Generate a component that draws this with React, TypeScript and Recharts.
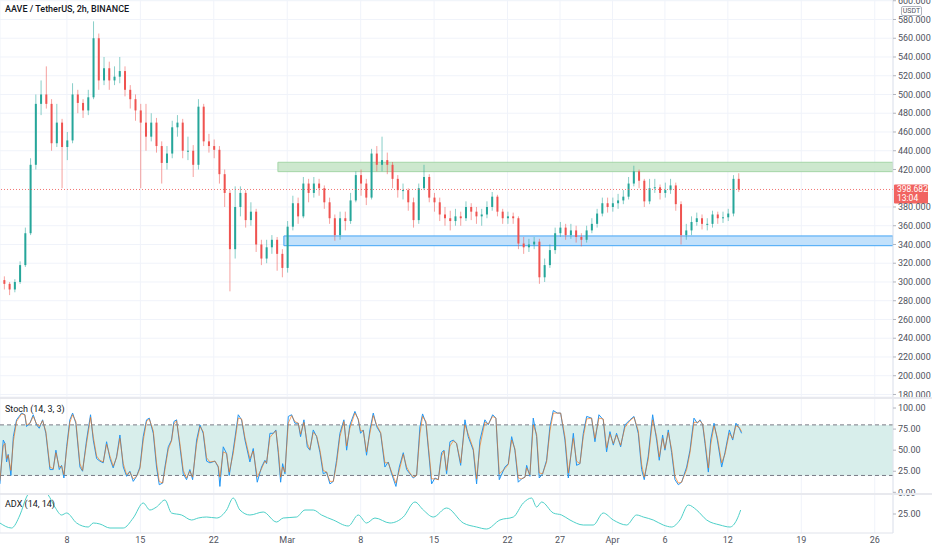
import React from "react";
import {
  ComposedChart, Bar, Line, XAxis, YAxis, CartesianGrid, ReferenceArea, ReferenceLine,
} from "recharts";

// time axis: days since Feb 1 (fractional), 2h chart sampled per 12h candle
const X_DOMAIN: [number, number] = [0.62, 85.74];
const tickDays = [7, 14, 21, 28, 35, 42, 49, 54, 59, 64, 70, 77, 84];
const tickLabels = ["8", "15", "22", "Mar", "8", "15", "22", "27", "Apr", "6", "12", "19", "26"];

// 400 sits under the last-price tag, so the axis does not print it
const priceTicks = [180, 200, 220, 240, 260, 280, 300, 320, 340, 360, 380, 420, 440, 460, 480, 500, 520, 540, 560, 580, 600];
const stochTicks = [0, 25, 50, 75, 100];
const adxTicks = [25];

const FIRST_OPEN = 302;
const LAST_PRICE = 398.682;

const closes = [
  298, 292, 300, 318, 352, 425, 490, 500, 490, 448, 470, 444, 451, 500, 491, 483, 497, 560, 515, 528,
  515, 519, 525, 505, 495, 483, 470, 455, 470, 445, 427, 437, 465, 470, 440, 440, 425, 487, 450, 445,
  441, 415, 395, 335, 380, 395, 366, 375, 340, 325, 337, 345, 330, 315, 359, 384, 370, 405, 395, 405,
  400, 385, 368, 350, 368, 365, 387, 414, 405, 390, 437, 425, 430, 425, 410, 398, 398, 385, 366, 400,
  412, 390, 385, 372, 368, 365, 370, 368, 380, 375, 370, 372, 380, 391, 375, 368, 370, 368, 341, 337,
  340, 343, 305, 318, 334, 352, 358, 350, 355, 348, 345, 355, 362, 373, 384, 380, 384, 387, 391, 405,
  418, 408, 386, 400, 401, 395, 398, 403, 383, 350, 355, 364, 368, 362, 362, 372, 368, 369, 373, 410,
  398.682,
];
const highs = [
  306, 300, 303, 322, 358, 432, 500, 515, 530, 495, 490, 474, 460, 512, 505, 495, 505, 578, 565, 540,
  535, 530, 540, 530, 510, 500, 490, 490, 480, 475, 450, 445, 472, 478, 474, 455, 446, 495, 490, 458,
  452, 445, 420, 398, 402, 402, 398, 385, 378, 345, 345, 350, 348, 335, 365, 392, 390, 412, 410, 412,
  410, 403, 390, 372, 375, 375, 395, 418, 420, 410, 442, 445, 455, 438, 428, 414, 405, 400, 390, 405,
  425, 415, 395, 390, 380, 376, 378, 375, 386, 384, 380, 378, 386, 396, 393, 378, 375, 374, 370, 348,
  346, 348, 346, 325, 340, 358, 364, 362, 362, 360, 352, 360, 368, 378, 390, 390, 390, 394, 398, 412,
  424, 420, 410, 410, 410, 404, 406, 410, 406, 386, 362, 370, 374, 372, 368, 376, 375, 375, 378, 414,
  416,
];
const lows = [
  292, 286, 289, 298, 316, 350, 420, 478, 485, 440, 444, 400, 430, 448, 480, 475, 478, 495, 505, 510,
  505, 510, 512, 498, 485, 472, 400, 440, 450, 438, 405, 420, 432, 455, 432, 430, 412, 420, 445, 438,
  432, 405, 380, 290, 325, 370, 358, 360, 332, 318, 320, 330, 312, 305, 310, 355, 362, 368, 385, 390,
  392, 378, 362, 344, 345, 355, 362, 385, 392, 382, 388, 418, 418, 415, 400, 390, 388, 376, 358, 362,
  398, 385, 375, 365, 360, 355, 360, 360, 365, 366, 362, 360, 368, 376, 370, 362, 362, 362, 335, 330,
  332, 335, 298, 300, 315, 330, 348, 345, 346, 342, 338, 342, 352, 358, 370, 374, 375, 378, 383, 388,
  402, 400, 380, 383, 395, 388, 390, 394, 376, 340, 345, 350, 360, 356, 355, 358, 362, 363, 365, 370,
  396,
];

const stochDays = [
  0.61, 0.93, 1.09, 1.25, 1.40, 1.66, 1.89, 2.20, 2.68, 2.99, 3.15, 3.47, 3.79, 4.11, 4.36, 4.68, 4.99, 5.38, 5.69, 5.95,
  6.27, 6.49, 6.71, 6.97, 7.28, 7.54, 7.85, 8.24, 8.49, 8.87, 9.25, 9.51, 9.83, 10.14, 10.46, 10.78, 11.10, 11.41, 11.73, 12.05,
  12.37, 12.69, 13.00, 13.32, 13.64, 13.96, 14.27, 14.59, 14.85, 15.23, 15.54, 15.80, 16.12, 16.34, 16.66, 16.97, 17.20, 17.45, 17.77, 18.09,
  18.40, 18.72, 18.98, 19.36, 19.68, 19.99, 20.31, 20.63, 21.11, 21.42, 21.58, 21.90, 22.22, 22.47, 22.85, 23.33, 23.65, 23.97, 24.44, 24.76,
  25.14, 25.55, 25.87, 26.03, 26.35, 26.67, 26.92, 27.14, 27.37, 27.56, 27.78, 28.10, 28.42, 28.73, 29.05, 29.27, 29.59, 29.91, 30.16, 30.48,
  30.80, 31.12, 31.43, 31.75, 32.07, 32.39, 32.70, 33.02, 33.40, 33.66, 33.97, 34.45, 34.77, 34.99, 35.25, 35.56, 35.88, 36.20, 36.52, 36.90,
  37.31, 37.63, 37.95, 38.36, 38.68, 39.06, 39.38, 39.69, 40.01, 40.33, 40.65, 40.90, 41.22, 41.76, 42.08, 42.40, 42.71, 42.94, 43.19, 43.51,
  43.83, 44.14, 44.53, 44.94, 45.25, 45.73, 46.05, 46.37, 46.84, 47.16, 47.58, 47.89, 48.21, 48.75, 49.07, 49.39, 49.70, 50.02, 50.34, 50.66,
  50.82, 51.13, 51.45, 51.77, 52.02, 52.34, 52.72, 53.04, 53.36, 53.74, 54.06, 54.47, 54.79, 55.27, 55.58, 55.90, 56.22, 56.54, 57.01, 57.33,
  57.71, 58.12, 58.44, 58.76, 59.08, 59.39, 59.78, 60.19, 60.67, 61.05, 61.46, 61.78, 62.03, 62.41, 62.83, 63.21, 63.46, 63.78, 64.00, 64.32,
  64.64, 64.96, 65.28, 65.59, 66.07, 66.39, 66.77, 67.09, 67.34, 67.60, 67.82, 68.14, 68.36, 68.68, 69.00, 69.41, 69.72, 70.14, 70.46, 70.77,
  71.09, 71.31,
];
const stochK = [
  10, 62, 58, 36, 45, 20, 66, 86, 94, 92, 78, 82, 92, 80, 76, 86, 70, 27, 27, 50,
  27, 32, 17, 54, 86, 94, 82, 30, 25, 62, 92, 62, 40, 37, 35, 60, 40, 29, 42, 68,
  30, 19, 25, 13, 19, 30, 66, 86, 88, 70, 30, 9, 11, 30, 54, 62, 84, 86, 54, 22,
  15, 27, 15, 62, 80, 70, 37, 35, 37, 30, 7, 54, 46, 20, 50, 92, 86, 62, 36, 52,
  12, 30, 38, 34, 70, 70, 74, 47, 12, 34, 22, 90, 92, 82, 82, 66, 86, 54, 50, 74,
  66, 47, 22, 24, 10, 13, 38, 70, 86, 50, 80, 96, 86, 70, 74, 44, 74, 94, 78, 70,
  30, 36, 22, 7, 30, 47, 27, 22, 17, 20, 78, 93, 82, 10, 17, 15, 47, 50, 22, 60,
  62, 58, 32, 86, 66, 50, 10, 62, 86, 80, 92, 88, 15, 30, 34, 66, 50, 12, 16, 18,
  32, 19, 88, 66, 17, 22, 38, 78, 97, 94, 94, 62, 17, 70, 32, 34, 70, 90, 88, 60,
  92, 86, 48, 72, 56, 70, 54, 80, 86, 90, 70, 27, 15, 43, 92, 62, 38, 68, 50, 74,
  47, 15, 9, 12, 30, 50, 88, 82, 86, 80, 58, 24, 62, 82, 62, 30, 47, 74, 62, 82,
  76, 70,
];
const stochD = [
  14, 55, 58, 40, 44, 26, 60, 84, 93, 92, 80, 82, 90, 81, 78, 85, 72, 30, 28, 47,
  30, 31, 21, 50, 83, 92, 84, 34, 26, 58, 89, 66, 43, 38, 36, 57, 43, 31, 41, 64,
  34, 21, 24, 16, 19, 28, 61, 84, 87, 73, 35, 13, 11, 27, 51, 61, 81, 85, 58, 26,
  17, 25, 18, 57, 78, 72, 41, 36, 37, 31, 18, 48, 46, 24, 46, 88, 87, 65, 40, 49,
  18, 28, 37, 35, 65, 70, 73, 51, 18, 30, 24, 82, 91, 84, 82, 69, 83, 58, 51, 71,
  67, 50, 26, 24, 13, 13, 34, 66, 84, 55, 76, 94, 87, 73, 73, 48, 70, 91, 80, 71,
  35, 35, 24, 11, 26, 45, 30, 23, 18, 20, 70, 90, 84, 16, 16, 15, 43, 49, 26, 55,
  61, 58, 35, 80, 69, 52, 16, 55, 83, 81, 90, 88, 22, 28, 33, 62, 52, 17, 16, 18,
  29, 21, 80, 69, 23, 22, 36, 73, 94, 94, 94, 66, 23, 64, 37, 34, 66, 87, 88, 64,
  88, 87, 53, 69, 58, 68, 56, 77, 85, 89, 73, 33, 18, 39, 86, 66, 42, 64, 52, 71,
  51, 19, 11, 12, 27, 47, 83, 83, 85, 81, 61, 29, 56, 79, 65, 35, 45, 70, 64, 79,
  77, 72,
];

const adxDays = [
  0.61, 1.72, 2.52, 3.15, 4.11, 5.22, 5.85, 6.49, 6.97, 7.92, 9.03, 9.51, 10.14, 11.10, 12.37, 13.32, 14.27, 14.91, 15.54, 16.34,
  16.97, 17.93, 18.88, 19.52, 20.31, 21.27, 22.22, 22.85, 23.49, 24.44, 25.71, 26.98, 27.62, 28.89, 29.69, 30.48, 31.27, 32.39, 33.82, 34.77,
  35.56, 36.36, 37.79, 39.06, 40.17, 40.97, 41.92, 43.19, 44.78, 46.05, 47.00, 48.27, 49.55, 50.50, 51.29, 51.77, 52.25, 53.36, 54.15, 54.95,
  56.22, 57.17, 58.12, 59.08, 60.35, 61.30, 61.94, 62.89, 63.84, 64.64, 65.43, 66.23, 67.02, 67.98, 69.25, 70.20, 70.84, 71.22,
];
const adxValues = [
  16, 11, 24, 42, 52, 44, 32, 24, 26, 16, 12, 16, 15, 11, 11, 21, 36, 29, 32, 39,
  26, 24, 19, 21, 22, 21, 29, 41, 29, 24, 27, 17, 21, 22, 29, 29, 24, 19, 13, 24,
  16, 21, 16, 22, 37, 29, 22, 31, 16, 12, 10, 19, 22, 36, 41, 32, 37, 26, 24, 19,
  14, 14, 26, 19, 14, 24, 22, 19, 14, 12, 19, 34, 29, 19, 14, 12, 19, 29,
];

// zones drawn by the author: day where it starts, low price, high price
const resistanceZone = { start: 27.11, low: 417.7, high: 427.7 };
const supportZone = { start: 27.68, low: 338.7, high: 349.1 };

const UP = "#26a69a";
const DOWN = "#ef5350";
const GRID = "#f0f3fa";
const AXIS_TEXT = "#50535e";
const FONT = "Roboto, 'Noto Sans', sans-serif";

const candles = closes.map((close, i) => ({
  day: 1 + i * 0.5,
  open: i === 0 ? FIRST_OPEN : closes[i - 1],
  high: highs[i],
  low: lows[i],
  close,
}));
const stochData = stochDays.map((day, i) => ({ day, k: stochK[i], d: stochD[i] }));
const adxData = adxDays.map((day, i) => ({ day, adx: adxValues[i] }));

const Candle = (props: any) => {
  const { x, y, width, height, payload } = props;
  const { open, close, high, low } = payload;
  const top = Math.min(y, y + height);
  const h = Math.abs(height);
  const ratio = h / (high - low || 1);
  const color = close >= open ? UP : DOWN;
  const bodyTop = top + (high - Math.max(open, close)) * ratio;
  const bodyH = Math.max(1, Math.abs(close - open) * ratio);
  const cx = x + width / 2;
  return (
    <g>
      <line x1={cx} x2={cx} y1={top} y2={top + h} stroke={color} strokeOpacity={0.55} strokeWidth={1} />
      <rect x={x} y={bodyTop} width={width} height={bodyH} fill={color} />
    </g>
  );
};

const PriceTag = (props: any) => {
  const { viewBox } = props;
  const x = viewBox.x + viewBox.width + 1;
  const y = viewBox.y;
  return (
    <g>
      <rect x={x} y={y - 5} width={34} height={19} fill={DOWN} fillOpacity={0.9} rx={1} />
      <text x={x + 3} y={y + 3} fontSize={8.5} fill="#fff" fontFamily={FONT}>{LAST_PRICE.toFixed(3)}</text>
      <text x={x + 3} y={y + 12} fontSize={8.5} fill="#fff" fontFamily={FONT}>13:04</text>
    </g>
  );
};

const tickStyle = { fontSize: 9, fill: AXIS_TEXT, fontFamily: FONT };
const fmtDay = (v: number) => tickLabels[tickDays.indexOf(v)] ?? "";

const paneLabel: React.CSSProperties = {
  position: "absolute", left: 5, fontSize: 9, color: "#131722", fontFamily: FONT, whiteSpace: "nowrap",
};

export default function App() {
  return (
    <div style={{ position: "absolute", left: 0, top: 0, width: 932, height: 550, background: "#fff", overflow: "hidden" }}>
      <style>{".recharts-surface{overflow:visible}"}</style>
      <div style={{ position: "absolute", left: 0, top: 0 }}>
        <ComposedChart width={932} height={397} data={candles} margin={{ top: 0, right: 0, bottom: 0, left: 0 }}>
          <CartesianGrid stroke={GRID} />
          <XAxis dataKey="day" type="number" domain={X_DOMAIN} ticks={tickDays} allowDataOverflow hide />
          <YAxis
            orientation="right" width={39} domain={[177.3, 600.8]} ticks={priceTicks} allowDataOverflow
            tick={tickStyle} tickFormatter={(v: number) => v.toFixed(3)} tickSize={3} tickMargin={2}
            axisLine={{ stroke: "#e0e3eb" }} tickLine={{ stroke: "#b2b5be" }} interval={0}
          />
          <ReferenceArea x1={resistanceZone.start} x2={X_DOMAIN[1]} y1={resistanceZone.low} y2={resistanceZone.high}
            fill="#c8e6c9" fillOpacity={0.9} stroke="#a5d6a7" strokeOpacity={1} ifOverflow="hidden" />
          <ReferenceArea x1={supportZone.start} x2={X_DOMAIN[1]} y1={supportZone.low} y2={supportZone.high}
            fill="#bbdefb" fillOpacity={0.9} stroke="#42a5f5" strokeOpacity={1} ifOverflow="hidden" />
          <ReferenceLine y={LAST_PRICE} stroke={DOWN} strokeDasharray="1 2" strokeOpacity={0.8} label={<PriceTag />} />
          <Bar dataKey={(d: any) => [d.low, d.high]} barSize={2} shape={<Candle />} isAnimationActive={false} />
        </ComposedChart>
      </div>
      <div style={{ ...paneLabel, top: 4, fontWeight: 500 }}>AAVE / TetherUS, 2h, BINANCE</div>
      <div style={{
        position: "absolute", left: 901, top: 6, width: 19, height: 8, border: "1px solid #b2b5be", borderRadius: 2,
        fontSize: 7, lineHeight: "8px", textAlign: "center", color: AXIS_TEXT, fontFamily: FONT, background: "#fff",
      }}>USDT</div>

      <div style={{ position: "absolute", left: 0, top: 397, width: 932, height: 2, background: "#e8e9ee" }} />

      <div style={{ position: "absolute", left: 0, top: 399 }}>
        <ComposedChart width={932} height={94} data={stochData} margin={{ top: 0, right: 0, bottom: 0, left: 0 }}>
          <CartesianGrid stroke={GRID} horizontal={false} />
          <XAxis dataKey="day" type="number" domain={X_DOMAIN} ticks={tickDays} allowDataOverflow hide />
          <YAxis
            orientation="right" width={39} domain={[-0.8, 110.7]} ticks={stochTicks} allowDataOverflow
            tick={tickStyle} tickFormatter={(v: number) => v.toFixed(2)} tickSize={3} tickMargin={2}
            axisLine={{ stroke: "#e0e3eb" }} tickLine={{ stroke: "#b2b5be" }} interval={0}
          />
          <ReferenceArea y1={20} y2={80} fill="#d8eeeb" fillOpacity={1} stroke="none" />
          <ReferenceLine y={80} stroke="#787b86" strokeDasharray="4 3" />
          <ReferenceLine y={20} stroke="#787b86" strokeDasharray="4 3" />
          <Line dataKey="k" stroke="#2196f3" strokeWidth={1} dot={false} isAnimationActive={false} />
          <Line dataKey="d" stroke="#ff6d00" strokeWidth={1} strokeOpacity={0.6} dot={false} isAnimationActive={false} />
        </ComposedChart>
      </div>
      <div style={{ ...paneLabel, top: 404 }}>Stoch (14, 3, 3)</div>

      <div style={{ position: "absolute", left: 0, top: 493, width: 932, height: 2, background: "#e8e9ee" }} />

      <div style={{ position: "absolute", left: 0, top: 495 }}>
        <ComposedChart width={932} height={55} data={adxData} margin={{ top: 0, right: 0, bottom: 0, left: 0 }}>
          <CartesianGrid stroke={GRID} horizontal={false} />
          <XAxis
            dataKey="day" type="number" domain={X_DOMAIN} ticks={tickDays} allowDataOverflow height={17}
            tickFormatter={fmtDay} tick={tickStyle} tickLine={false} tickSize={0} tickMargin={4}
            axisLine={{ stroke: "#e0e3eb" }} interval={0}
          />
          <YAxis
            orientation="right" width={39} domain={[6, 44]} ticks={adxTicks} allowDataOverflow
            tick={tickStyle} tickFormatter={(v: number) => v.toFixed(2)} tickSize={3} tickMargin={2}
            axisLine={{ stroke: "#e0e3eb" }} tickLine={{ stroke: "#b2b5be" }} interval={0}
          />
          <Line dataKey="adx" type="monotone" stroke="#4dd0c8" strokeWidth={1} dot={false} isAnimationActive={false} />
        </ComposedChart>
      </div>
      <div style={{ ...paneLabel, top: 499 }}>ADX (14, 14)</div>
    </div>
  );
}
